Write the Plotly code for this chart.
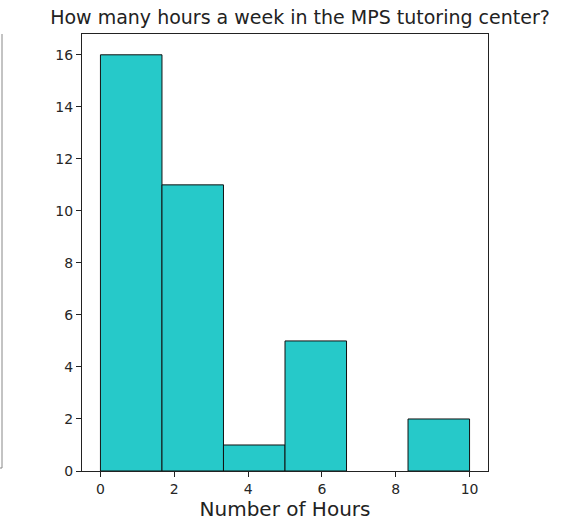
import plotly.graph_objects as go

# Histogram data (bin edges from 0 to 10, 6 bins)
bin_start = 0
bin_end = 10
n_bins = 6
counts = [16, 11, 1, 5, 0, 2]
x_ticks = [0, 2, 4, 6, 8, 10]
y_ticks = [0, 2, 4, 6, 8, 10, 12, 14, 16]

width = (bin_end - bin_start) / n_bins
centers = [bin_start + width * (i + 0.5) for i in range(n_bins)]
edge_widths = [1 if c > 0 else 0 for c in counts]

W, H = 569, 522
L, R, T, B = 82, 81, 34, 51

fig = go.Figure()
fig.add_trace(go.Bar(
    x=centers, y=counts, width=[width] * n_bins,
    marker=dict(color="#26C9C9", line=dict(color="#111111", width=edge_widths)),
))

pw = W - L - R
ph = H - T - B
fig.add_shape(type="path", xref="paper", yref="paper",
              path=f"M {(2 - L)/pw} 1 L {(2 - L)/pw} {(H - B - 468)/ph} L {(-1 - L)/pw} {(H - B - 468)/ph}",
              line=dict(color="#888888", width=1))

axis_common = dict(
    showgrid=False, zeroline=False, showline=True, linecolor="#222222", linewidth=1,
    mirror=True, ticks="outside", ticklen=5, tickcolor="#222222", automargin=False,
    tickfont=dict(family="DejaVu Sans", size=14, color="#262626"),
)
fig.update_xaxes(range=[-0.5, 10.5], tickvals=x_ticks,
                 title=dict(text="Number of Hours", font=dict(family="DejaVu Sans", size=20, color="#222222"), standoff=4),
                 **axis_common)
fig.update_yaxes(range=[0, 16.8], tickvals=y_ticks, **axis_common)

fig.update_layout(
    width=W, height=H,
    margin=dict(l=L, r=R, t=T, b=B, autoexpand=False),
    paper_bgcolor="white", plot_bgcolor="white",
    showlegend=False,
    title=dict(text="How many hours a week in the MPS tutoring center?",
               font=dict(family="DejaVu Sans", size=19, color="#222222"),
               xref="container", x=300 / W, xanchor="center", y=1 - 17 / H, yanchor="middle"),
)

fig.write_html("out.html", config={"displayModeBar": False},
               post_script="document.body.style.margin='0';document.body.style.overflow='hidden';")
